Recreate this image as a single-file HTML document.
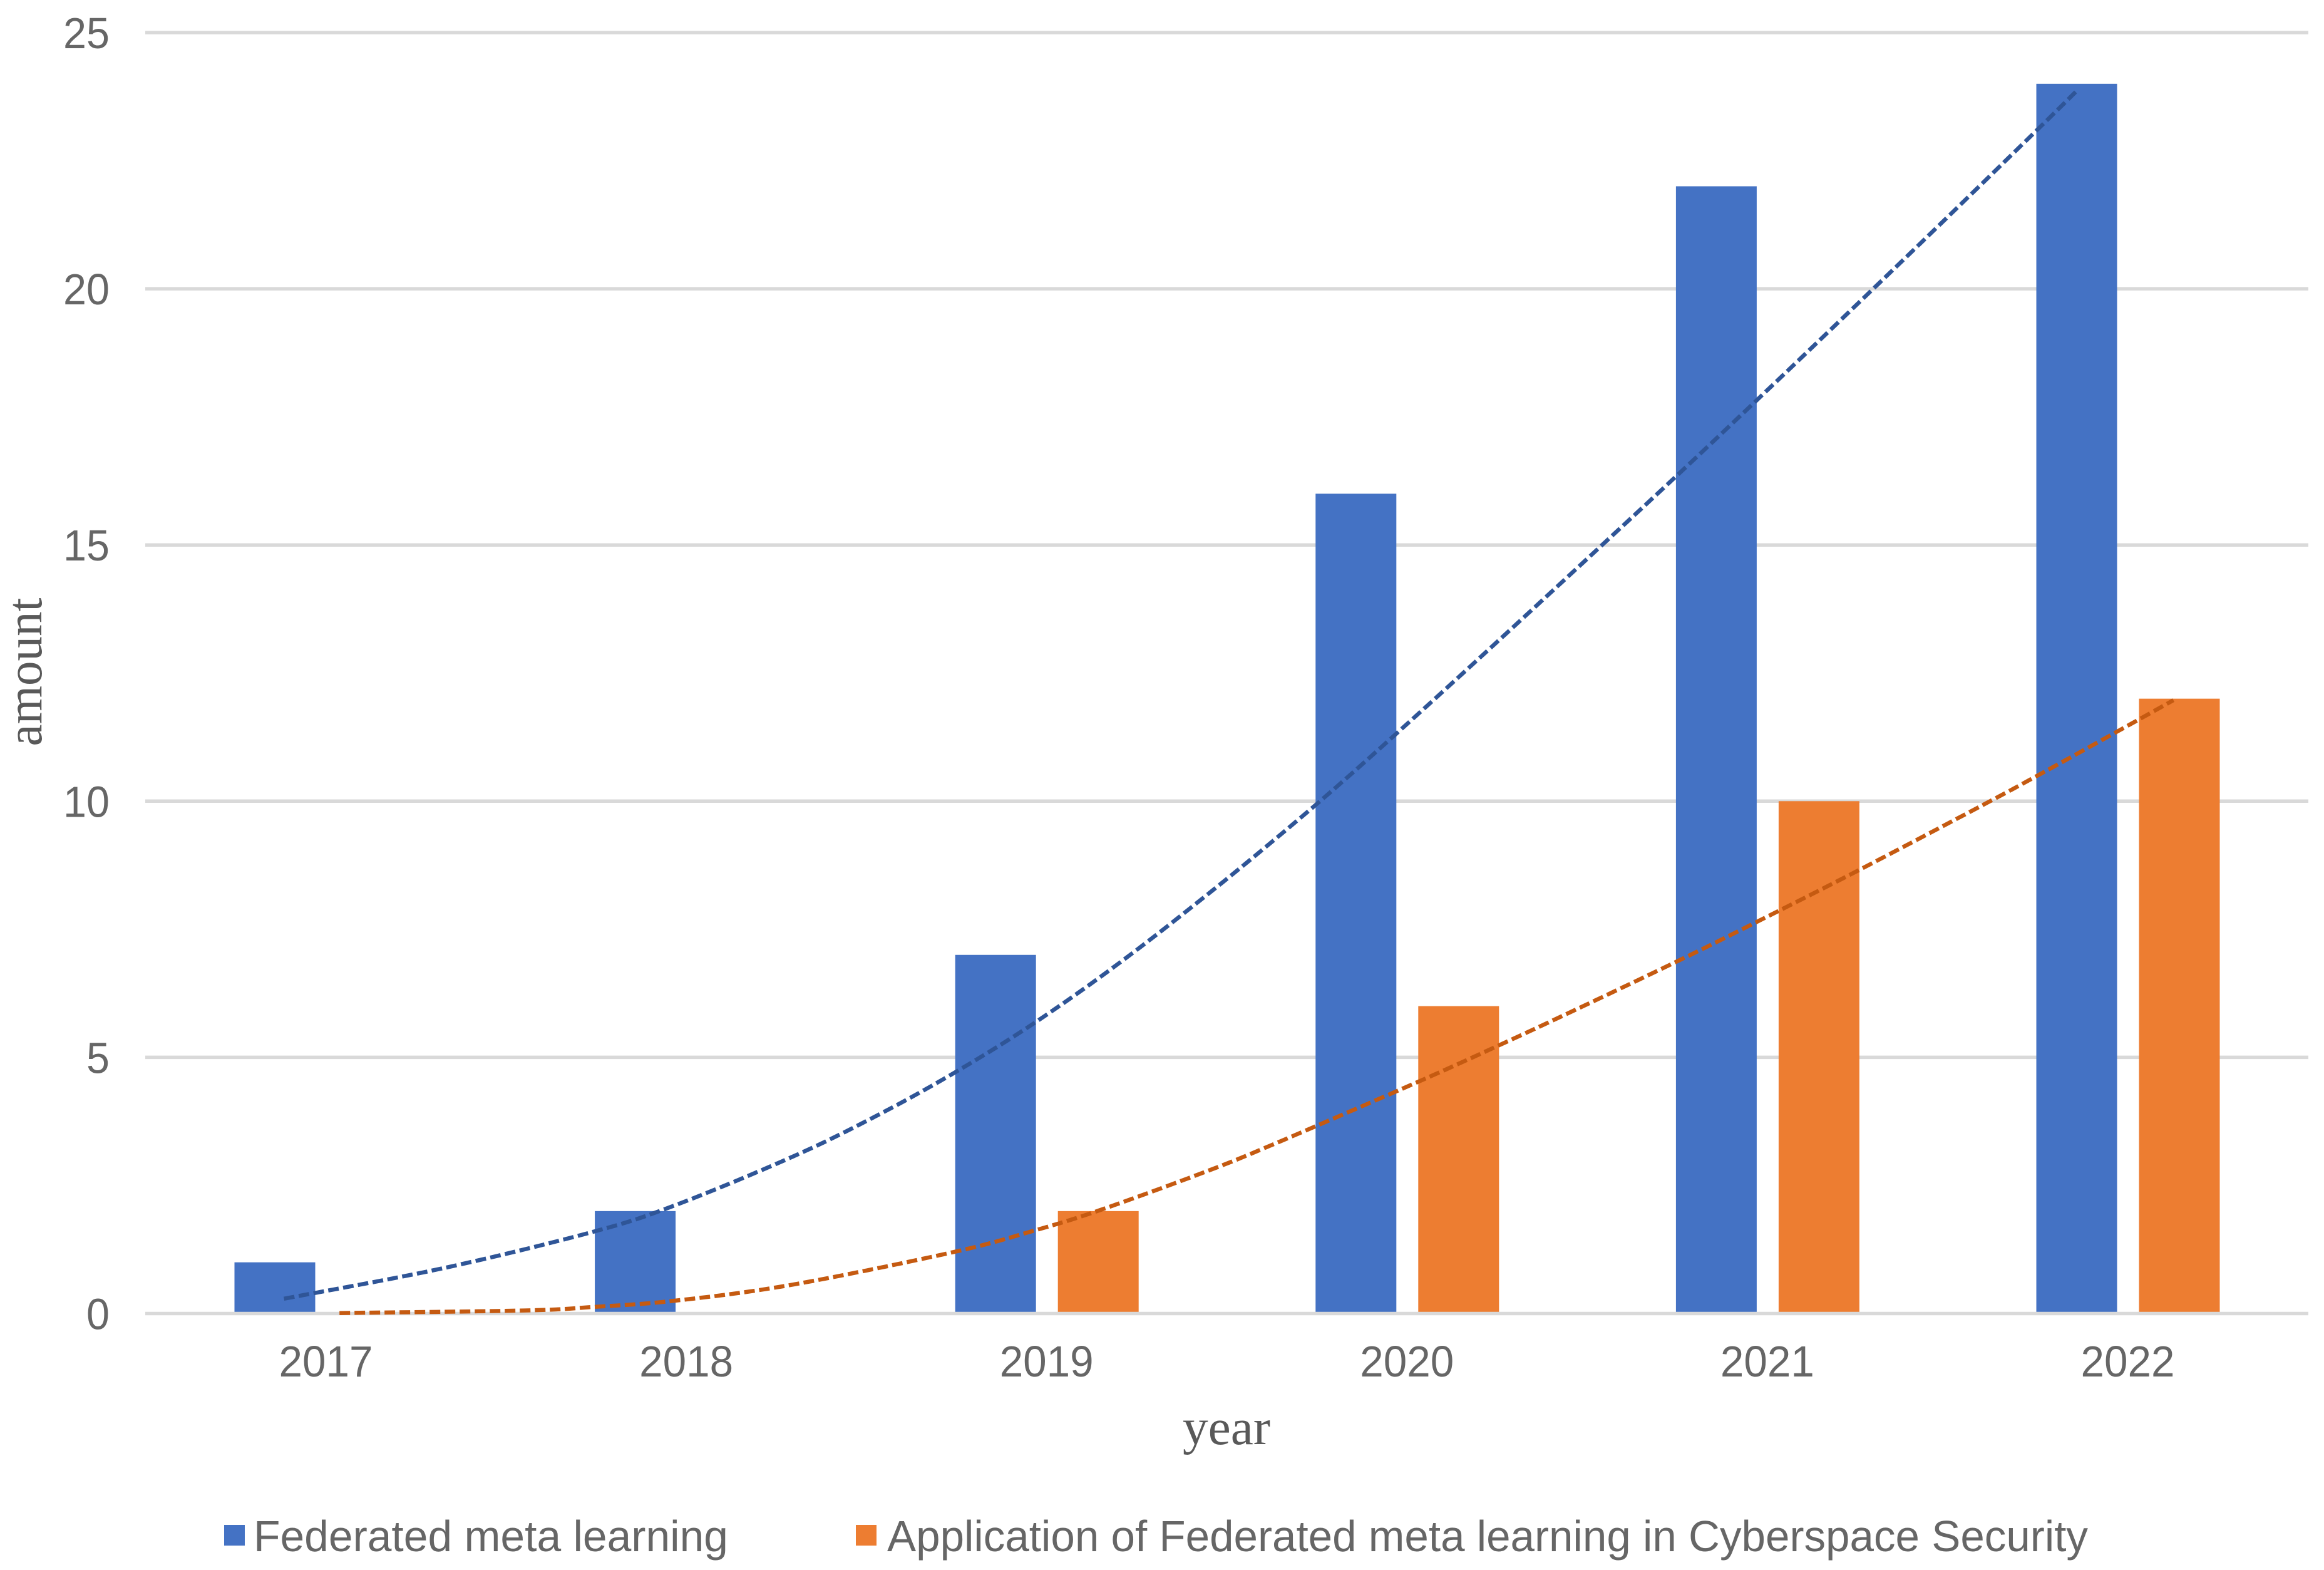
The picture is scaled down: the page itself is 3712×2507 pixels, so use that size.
<!DOCTYPE html>
<html lang="en">
<head>
<meta charset="utf-8">
<title>Federated meta learning publications by year</title>
<style>
html,body{margin:0;padding:0;background:#fff;width:3712px;height:2507px;overflow:hidden}
svg{display:block}
.tick{font-family:"Liberation Sans",sans-serif;font-size:70px;fill:#666}
.axis-title{font-family:"Liberation Serif",serif;font-size:80px;fill:#595959}
.legend-text{font-family:"Liberation Sans",sans-serif;font-size:70px;fill:#666}
</style>
</head>
<body>
<svg id="chart" xmlns="http://www.w3.org/2000/svg" width="3712" height="2507" viewBox="0 0 3712 2507">
  <rect x="0" y="0" width="3712" height="2507" fill="#ffffff"/>
  <g id="grid"></g>
  <g id="bars"></g>
  <g id="baseline"></g>
  <g id="trends"></g>
  <g id="yticks"></g>
  <g id="xticks"></g>
  <text class="axis-title" x="1959" y="2306" text-anchor="middle" textLength="140" lengthAdjust="spacingAndGlyphs">year</text>
  <text class="axis-title" transform="translate(66,1073) rotate(-90)" text-anchor="middle" textLength="237" lengthAdjust="spacingAndGlyphs">amount</text>
  <g>
    <g>
      <rect x="358" y="2435" width="33" height="33" fill="#4472C4"/>
      <text class="legend-text" x="405" y="2477" textLength="758" lengthAdjust="spacingAndGlyphs">Federated meta learning</text>
    </g>
    <g>
      <rect x="1367" y="2435" width="33" height="33" fill="#ED7D31"/>
      <text class="legend-text" x="1417" y="2477" textLength="1918" lengthAdjust="spacingAndGlyphs">Application of Federated meta learning in Cyberspace Security</text>
    </g>
  </g>
</svg>
<script>
const years = [2017, 2018, 2019, 2020, 2021, 2022];
const yTickValues = [0, 5, 10, 15, 20, 25];
const federatedValues = [1, 2, 7, 16, 22, 24];
const applicationValues = [0, 0, 2, 6, 10, 12];
const federatedTrendYears = [2016.882, 2017.327, 2017.742, 2017.966, 2018.290, 2018.521, 2018.740, 2018.964, 2019.213, 2019.489, 2019.742, 2019.966, 2020.258, 2020.546, 2020.742, 2020.965, 2021.221, 2021.478, 2021.744, 2021.855];
const federatedTrendValues = [0.29, 0.89, 1.60, 2.11, 3.05, 3.84, 4.69, 5.67, 6.91, 8.43, 9.91, 11.30, 13.17, 15.04, 16.32, 17.80, 19.52, 21.26, 23.08, 23.85];
const applicationTrendYears = [2017.036, 2017.549, 2017.742, 2017.966, 2018.290, 2018.740, 2018.964, 2019.143, 2019.444, 2019.633, 2020.025, 2020.249, 2020.433, 2020.741, 2020.965, 2021.251, 2021.595, 2021.743, 2021.967, 2022.125];
const applicationTrendValues = [0.01, 0.06, 0.13, 0.25, 0.56, 1.20, 1.62, 2.01, 2.78, 3.32, 4.51, 5.22, 5.82, 6.85, 7.63, 8.65, 9.92, 10.48, 11.35, 11.97];

const NS = 'http://www.w3.org/2000/svg';
const xAxis = function (year) { return 521.5 + 575.6 * (year - 2017); };
const yAxis = function (value) { return 2097.5 - 81.82 * value; };
const BAR_W = 129;
const BLUE_OFFSET = -147;
const ORANGE_OFFSET = 17;
const GRID_LEFT = 232;
const GRID_RIGHT = 3687;

function gridLine(parent, value) {
  const line = document.createElementNS(NS, 'line');
  line.setAttribute('x1', GRID_LEFT);
  line.setAttribute('x2', GRID_RIGHT);
  line.setAttribute('y1', yAxis(value));
  line.setAttribute('y2', yAxis(value));
  line.setAttribute('stroke', '#D9D9D9');
  line.setAttribute('stroke-width', '5.5');
  parent.appendChild(line);
  return line;
}

const gridGroup = document.getElementById('grid');
const baselineGroup = document.getElementById('baseline');
const yTickGroup = document.getElementById('yticks');
yTickValues.forEach(function (v) {
  const line = gridLine(v === 0 ? baselineGroup : gridGroup, v);
  
  
  const t = document.createElementNS(NS, 'text');
  
  
  t.setAttribute('class', 'tick');
  t.setAttribute('x', 175);
  t.setAttribute('y', yAxis(v) + 25);
  t.setAttribute('text-anchor', 'end');
  t.setAttribute('textLength', String(v).length * 37);
  t.setAttribute('lengthAdjust', 'spacingAndGlyphs');
  t.textContent = String(v);
  yTickGroup.appendChild(t);
});

const xTickGroup = document.getElementById('xticks');
years.forEach(function (year) {
  const t = document.createElementNS(NS, 'text');
  
  
  t.setAttribute('class', 'tick');
  t.setAttribute('x', xAxis(year) - 1);
  t.setAttribute('y', 2198);
  t.setAttribute('text-anchor', 'middle');
  t.setAttribute('textLength', '150');
  t.setAttribute('lengthAdjust', 'spacingAndGlyphs');
  t.textContent = String(year);
  xTickGroup.appendChild(t);
});

const barGroup = document.getElementById('bars');
function drawBar(year, value, left, color, seriesKey) {
  if (value <= 0) return;
  const r = document.createElementNS(NS, 'rect');
  
  
  r.setAttribute('x', left);
  r.setAttribute('y', yAxis(value));
  r.setAttribute('width', BAR_W);
  r.setAttribute('height', yAxis(0) - yAxis(value));
  r.setAttribute('fill', color);
  barGroup.appendChild(r);
}
years.forEach(function (year, i) {
  const c = xAxis(year);
  drawBar(year, federatedValues[i], c + BLUE_OFFSET, '#4472C4', 'federated');
  drawBar(year, applicationValues[i], c + ORANGE_OFFSET, '#ED7D31', 'application');
});

function smoothPath(xs, ys) {
  const pts = xs.map(function (x, i) { return [xAxis(x), yAxis(ys[i])]; });
  let d = 'M' + pts[0][0].toFixed(1) + ' ' + pts[0][1].toFixed(1);
  for (let i = 0; i < pts.length - 1; i++) {
    const p0 = pts[Math.max(i - 1, 0)];
    const p1 = pts[i];
    const p2 = pts[i + 1];
    const p3 = pts[Math.min(i + 2, pts.length - 1)];
    const c1x = p1[0] + (p2[0] - p0[0]) / 6;
    const c1y = p1[1] + (p2[1] - p0[1]) / 6;
    const c2x = p2[0] - (p3[0] - p1[0]) / 6;
    const c2y = p2[1] - (p3[1] - p1[1]) / 6;
    d += 'C' + c1x.toFixed(1) + ' ' + c1y.toFixed(1) + ' ' + c2x.toFixed(1) + ' ' + c2y.toFixed(1) + ' ' + p2[0].toFixed(1) + ' ' + p2[1].toFixed(1);
  }
  return d;
}

const trendGroup = document.getElementById('trends');
const blueTrend = document.createElementNS(NS, 'path');


blueTrend.setAttribute('d', smoothPath(federatedTrendYears, federatedTrendValues));
blueTrend.setAttribute('fill', 'none');
blueTrend.setAttribute('stroke', '#2F5597');
blueTrend.setAttribute('stroke-width', '6.5');
blueTrend.setAttribute('stroke-dasharray', '17 7');
trendGroup.appendChild(blueTrend);

const orangeTrend = document.createElementNS(NS, 'path');


orangeTrend.setAttribute('d', smoothPath(applicationTrendYears, applicationTrendValues));
orangeTrend.setAttribute('fill', 'none');
orangeTrend.setAttribute('stroke', '#C55A11');
orangeTrend.setAttribute('stroke-width', '6.5');
orangeTrend.setAttribute('stroke-dasharray', '17 7');
trendGroup.appendChild(orangeTrend);
</script>
</body>
</html>
